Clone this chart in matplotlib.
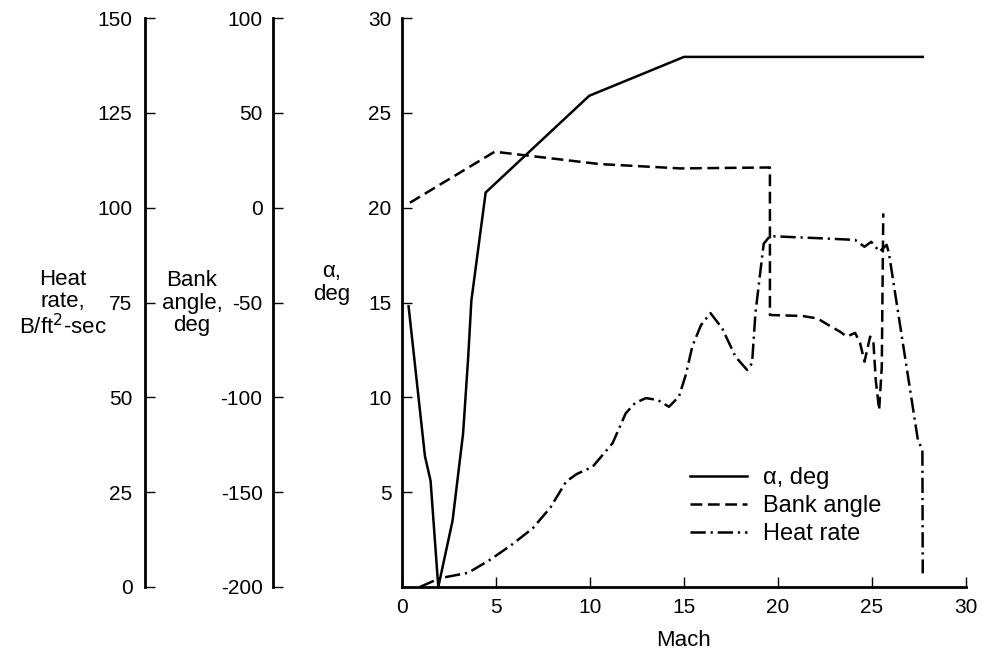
import matplotlib
matplotlib.use("Agg")
import matplotlib.pyplot as plt

plt.rcParams['font.family'] = ['Liberation Sans', 'DejaVu Sans']
plt.rcParams['axes.unicode_minus'] = False
plt.rcParams['lines.scale_dashes'] = False

# ---- data ----
alpha_mach = [0.35, 1.22, 1.52, 1.93, 2.69, 3.25, 3.52, 3.69, 4.45, 9.96, 15.0, 27.7]
alpha_deg = [14.8, 6.9, 5.6, 0.0, 3.5, 8.1, 12.1, 15.1, 20.8, 25.9, 27.95, 27.95]

bank_mach = [0.42, 4.93, 10.5, 14.8, 19.57, 19.57, 21.3, 22.1, 22.7, 23.3, 23.66, 24.1,
             24.37, 24.6, 24.9, 25.07, 25.2, 25.38, 25.52, 25.6]
bank_deg = [2.6, 29.5, 23.0, 20.7, 21.2, -56.6, -57.1, -58.4, -62.0, -65.4, -68.0, -66.0,
            -71.5, -81.2, -68.0, -70.0, -91.0, -106.7, -84.0, -3.0]

heat_mach = [0.95, 2.0, 3.52, 4.66, 5.8, 6.96, 7.9, 8.73, 9.3, 10.14, 11.2, 11.9, 12.4, 12.97,
             13.6, 14.2, 14.73, 15.1, 15.44, 15.9, 16.41, 17.03, 17.74, 18.36, 18.62,
             18.8, 19.07, 19.24, 19.57, 22.4, 24.1, 24.6, 24.96, 25.4, 25.78, 25.9,
             27.44, 27.68, 27.7]
heat_rate = [0.0, 2.3, 3.75, 7.1, 11.0, 15.5, 21.0, 27.8, 29.8, 31.7, 37.9, 45.8, 48.5, 49.8,
             49.3, 47.5, 50.2, 56.0, 63.4, 69.0, 72.2, 68.2, 60.7, 57.2, 59.0,
             72.2, 83.5, 90.5, 92.5, 91.9, 91.5, 89.7, 91.0, 88.4, 90.2, 88.0,
             38.8, 36.1, 3.6]

mach_ticks = [0, 5, 10, 15, 20, 25, 30]
alpha_ticks = [5, 10, 15, 20, 25, 30]
bank_ticks = [-200, -150, -100, -50, 0, 50, 100]
heat_ticks = [0, 25, 50, 75, 100, 125, 150]

legend_labels = ['\u03b1, deg', 'Bank angle', 'Heat rate']

# ---- figure ----
W, H = 987, 653
fig = plt.figure(figsize=(W / 100, H / 100), dpi=100)
L, R, T, B = 402, 966, 18, 587
ax = fig.add_axes([L / W, (H - B) / H, (R - L) / W, (B - T) / H])

FS = 15
TFS = 16
LFS = 17
LW = 1.8
dash_style = (0, (8.5, 4.0))
dashdot_style = (0, (11.0, 3.5, 1.6, 3.5))

ax.set_xlim(0, 30)
ax.set_ylim(0, 30)
for s in ['top', 'right']:
    ax.spines[s].set_visible(False)
for s in ['left', 'bottom']:
    ax.spines[s].set_linewidth(2.0)
ax.set_xticks(mach_ticks)
ax.set_yticks(alpha_ticks)
ax.tick_params(direction='in', length=7, width=1.0, labelsize=FS)
ax.tick_params(axis='x', pad=8)
ax.tick_params(axis='y', pad=7.5)
ax.set_xlabel('Mach', fontsize=TFS, labelpad=9)

def side_axis(ylim, ticks, frac, pad):
    a = ax.twinx()
    a.set_ylim(*ylim)
    for s in ['top', 'right', 'bottom']:
        a.spines[s].set_visible(False)
    a.spines['left'].set_visible(True)
    a.spines['left'].set_position(('axes', frac))
    a.spines['left'].set_linewidth(2.0)
    a.yaxis.set_ticks_position('left')
    a.yaxis.set_label_position('left')
    a.set_yticks(ticks)
    a.set_yticklabels([str(t) for t in ticks])
    a.tick_params(axis='y', direction='in', length=7, width=1.0, labelsize=FS, pad=pad)
    a.patch.set_visible(False)
    return a

ax_bank = side_axis((-200, 100), bank_ticks, (273 - L) / (R - L), 7.5)
ax_heat = side_axis((0, 150), heat_ticks, (145 - L) / (R - L), 9.0)

l1, = ax.plot(alpha_mach, alpha_deg, color='black', lw=LW, clip_on=False,
              solid_joinstyle='miter')
l2, = ax_bank.plot(bank_mach, bank_deg, color='black', lw=LW, linestyle=dash_style,
                   clip_on=False)
l3, = ax_heat.plot(heat_mach, heat_rate, color='black', lw=LW, linestyle=dashdot_style,
                   clip_on=False)

# axis titles
fig.text(63 / W, 1 - 304 / H, 'Heat\nrate,\nB/ft$^{2}$-sec', ha='center', va='center',
         fontsize=TFS, linespacing=1.1, multialignment='center')
fig.text(192 / W, 1 - 303 / H, 'Bank\nangle,\ndeg', ha='center', va='center',
         fontsize=TFS, linespacing=1.1, multialignment='center')
fig.text(332 / W, 1 - 283 / H, '\u03b1,\ndeg', ha='center', va='center',
         fontsize=TFS, linespacing=1.1, multialignment='center')

leg = ax_heat.legend([l1, l2, l3], legend_labels, loc='center left',
                     bbox_to_anchor=(690 / W, 1 - 506 / H), bbox_transform=fig.transFigure,
                     frameon=False, fontsize=LFS, handlelength=2.4, handletextpad=0.68,
                     labelspacing=0.25, borderpad=0, borderaxespad=0)

fig.savefig('out.png', dpi=100)
